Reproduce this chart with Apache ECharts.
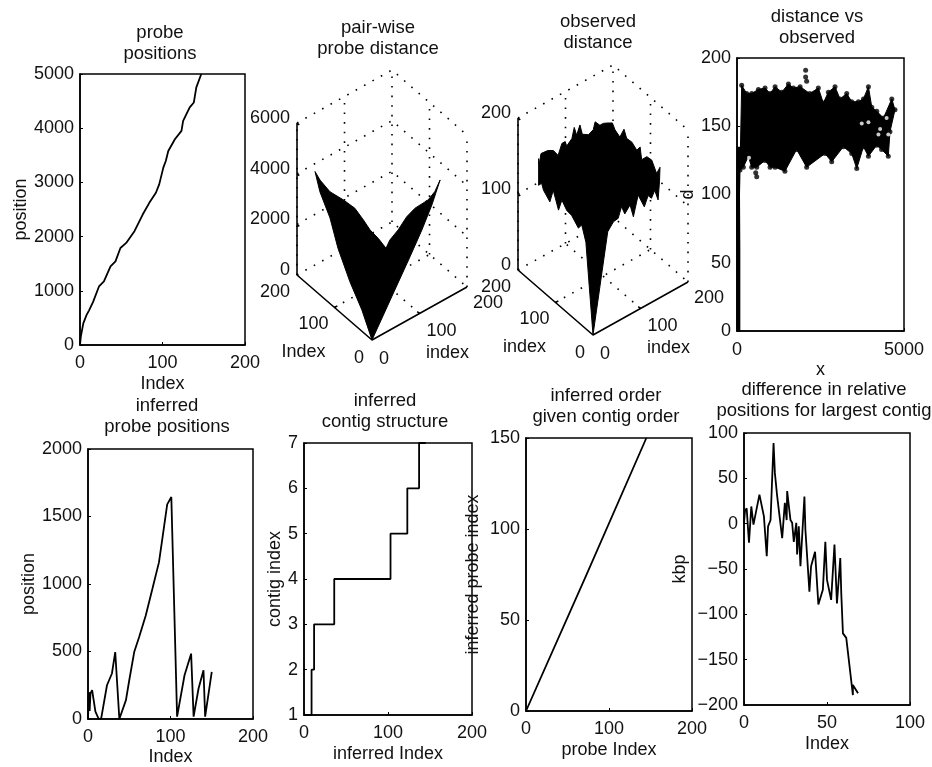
<!DOCTYPE html>
<html>
<head>
<meta charset="utf-8">
<style>html,body{margin:0;padding:0;background:#fff}#c{width:932px;height:767px}</style>
<script src="https://cdn.jsdelivr.net/npm/echarts@6/dist/echarts.min.js"></script>
</head>
<body>
<div id="c"></div>
<script>
// ---- data ----
const probePositions = [[0,0],[1,155],[4,400],[8,555],[11,640],[16,800],[23,1080],[29,1173],[37,1450],[43,1543],[49,1790],[56,1883],[66,2100],[76,2407],[84,2623],[92,2809],[96,2963],[101,3272],[104,3395],[107,3580],[115,3796],[123,3951],[125,4136],[133,4383],[138,4475],[141,4753],[147,5000]];

const pairwiseLowerLeft = [[27,840],[59,1545],[91,2465],[112,3380],[139,4070],[152,4700]];
const pairwiseRidgeLeft = [[10.5,4255],[31.6,3570],[60,2950],[84,2370],[102,1720],[116,1180],[133,675],[149.5,107]];
const pairwiseRidgeRight = [[136,687],[114,1366],[91,2183],[69,2800],[34,3577],[16,4140],[2,4775]];
const pairwiseLowerRight = [[126,4010],[105,3245],[80,2450],[48,1473],[24,734]];

const observedLowerLeft = [[19,114],[30,132],[39,124],[57,133],[70,134],[83,142],[92,125],[106,145],[115,126],[132,134],[137,141],[145,135]];
const observedUpperLeft = [[0,170],[1,161],[5,175],[19,174],[31,170],[41,160],[49,173],[56,173],[59,166],[70,172],[75,185],[80,173],[87,184],[92,170],[105,165],[115,168],[119,177],[129,169],[136,169],[143,167]];
const observedUpperRight = [[132,172],[125,166],[112,162],[101,177],[94,168],[80,169],[67,164],[58,172],[54,157],[40,167],[27,168],[14,156],[5,168]];
const observedLowerRight = [[140,153],[137,130],[130,145],[123,137],[116,143],[108,131],[95,151],[85,126],[78,144],[67,136],[60,148],[53,135],[43,134],[31,125]];

const scatterUpper = [[140,180],[290,174],[440,174],[640,177],[840,178],[990,174],[1140,179],[1340,175],[1540,181],[1690,178],[1890,179],[2180,174],[2435,178],[2585,167],[2735,175],[2935,179],[3085,170],[3285,174],[3435,168],[3635,168],[3785,170],[3935,179],[4035,164],[4185,161],[4385,156],[4635,170],[4730,162]];
const scatterLower = [[4580,146],[4530,128],[4330,133],[4180,136],[3935,128],[3785,135],[3585,119],[3435,130],[3185,135],[2835,124],[2635,130],[2085,120],[1785,133],[1435,117],[1140,120],[990,120],[840,125],[590,120],[440,120],[340,128],[190,120],[90,118]];
const scatterOutliers = [[2055,191],[2055,186],[2085,183],[590,113],[560,116]];
const scatterHoles = [[3735,152],[3935,153],[4285,148],[4235,144],[4530,144],[4480,156],[360,127]];
const scatterColumn = [[40,0],[40,60],[30,100],[60,135]];

const inferredPositions = [[0,0],[1,200],[2,60],[3,190],[5,214],[7,226],[9,54],[13,0],[16,5],[23,250],[29,337],[33,496],[35,496],[38,0],[46,140],[50,287],[56,496],[62,607],[70,767],[78,963],[86,1160],[90,1330],[96,1590],[101,1644],[108,17],[117,324],[125,484],[128,17],[134,226],[140,361],[142,17],[150,349]];
const contigSteps = [[0,1],[9,1],[9,2],[12,2],[12,3],[36,3],[36,4],[103,4],[103,5],[123,5],[123,6],[137,6],[137,7],[145,7]];
const inferredOrder = [[0,0],[72,74],[145,150]];
const positionDifference = [[0,1],[0.6,14],[1.6,17],[3,-21],[4.4,19],[5.7,-1],[9.3,32],[12,8],[13.7,-36],[14.5,-3],[16,4],[17.8,89],[18.6,56],[20,30],[23,-16],[24.6,23],[25.7,4],[26,36],[28,4],[29,1],[30,-20],[31.5,1],[32,-34],[33,-3],[34,-47],[36.4,30],[37,-7],[39.4,-75],[40.4,-47],[42.8,-31],[44.8,-89],[47.5,-73],[49,-20],[50,-62],[52.5,-84],[54.5,-23],[56,-88],[58,-38],[58.6,-77],[59.6,-121],[61.6,-126],[65.6,-189],[65.6,-178],[68.7,-187]];

const indexTicks3d = [0,100,200];
const zTicksPairwise = [0,2000,4000,6000];
const zTicksObserved = [0,100,200];

const titles = [
  ['probe\npositions',160,23],['pair-wise\nprobe distance',378,18],['observed\ndistance',598,12],['distance vs\nobserved',817,7],
  ['inferred\nprobe positions',167,396],['inferred\ncontig structure',385,391],['inferred order\ngiven contig order',606,386],['difference in relative\npositions for largest contig',824,380]
];

// ---- helpers ----
const FONT = '"Liberation Sans", Arial, sans-serif';
const FS = 18;
const grids = [], xAxes = [], yAxes = [], series = [];

function minusFmt(v){ return String(v).replace('-', '\u2212'); }

function flatPanel(box, xo, yo){
  const i = grids.length;
  grids.push({left:box[0],top:box[1],width:box[2]-box[0],height:box[3]-box[1],show:true,borderColor:'#000',borderWidth:1.5,backgroundColor:'transparent'});
  const axisCommon = {
    axisLine:{show:true,onZero:false,lineStyle:{color:'#000',width:1.5}},
    axisTick:{show:true,inside:true,length:3,lineStyle:{color:'#000',width:1}},
    splitLine:{show:false},
    nameLocation:'middle',
    nameTextStyle:{fontFamily:FONT,fontSize:FS,color:'#111'},
    axisLabel:{fontFamily:FONT,fontSize:FS,color:'#111',formatter:minusFmt,hideOverlap:false,showMinLabel:true,showMaxLabel:true}
  };
  xAxes.push(Object.assign({},axisCommon,{type:'value',gridIndex:i,min:xo.min,max:xo.max,interval:xo.interval,name:xo.name,nameGap:xo.gap,
    axisLabel:Object.assign({},axisCommon.axisLabel,{margin:xo.margin})}));
  yAxes.push(Object.assign({},axisCommon,{type:'value',gridIndex:i,min:yo.min,max:yo.max,interval:yo.interval,name:yo.name,nameGap:yo.gap,nameRotate:90,
    axisLabel:Object.assign({},axisCommon.axisLabel,{margin:6})}));
  return i;
}
function lineOn(i, data){
  series.push({type:'line',xAxisIndex:i,yAxisIndex:i,data:data,showSymbol:false,symbol:'none',animation:false,
    lineStyle:{color:'#000',width:1.8},silent:true,z:5,clip:false});
}
function polygonOn(i, pts, z){
  series.push({type:'custom',xAxisIndex:i,yAxisIndex:i,data:[[0,0]],animation:false,silent:true,z:z||4,clip:false,
    renderItem:function(p,api){
      return {type:'polygon',shape:{points:pts.map(q=>api.coord(q))},style:{fill:'#000',stroke:'#000',lineWidth:1}};
    }});
}

function panel3d(box, origin, zScale, zTicks, names){
  const i = grids.length;
  grids.push({left:box[0],top:box[1],width:box[2],height:box[3],show:false});
  xAxes.push({type:'value',gridIndex:i,min:0,max:box[2],show:false});
  yAxes.push({type:'value',gridIndex:i,min:0,max:box[3],inverse:true,show:false});
  const P = (a,b,z)=>[origin[0]-box[0]-0.375*a+0.475*b, origin[1]-box[1]-0.325*a-0.265*b-z*zScale];
  const zMax = zTicks[zTicks.length-1];
  const brk = ['-','-'];
  const dotted = [];
  const add = (...pts)=>{ pts.forEach(p=>dotted.push(p)); dotted.push(brk); };
  zTicks.forEach(z=>{ add(P(200,0,z),P(200,200,z),P(0,200,z)); });
  indexTicks3d.forEach(t=>{
    add(P(200,t,0),P(200,t,zMax));
    if(t<200) add(P(t,200,0),P(t,200,zMax));
    if(t>0&&t<200){ add(P(t,0,0),P(t,200,0)); add(P(0,t,0),P(200,t,0)); }
  });
  series.push({type:'line',xAxisIndex:i,yAxisIndex:i,data:dotted,showSymbol:false,symbol:'none',animation:false,silent:true,connectNulls:false,z:2,clip:false,
    lineStyle:{color:'#000',width:1.6,type:[1.6,8]}});
  const solid = [P(200,0,zMax),P(200,0,0),P(0,0,0),P(0,200,0),brk];
  [100].forEach(t=>{ solid.push(P(t,0,0),P(t,6,0),brk,P(0,t,0),P(6,t,0),brk); });
  zTicks.forEach(z=>{ solid.push(P(200,0,z),P(194,0,z),brk); });
  series.push({type:'line',xAxisIndex:i,yAxisIndex:i,data:solid,showSymbol:false,symbol:'none',animation:false,silent:true,connectNulls:false,z:3,clip:false,
    lineStyle:{color:'#000',width:1.6}});
  const labels = [];
  zTicks.forEach(z=>labels.push([P(200,0,z),String(z),-7,-5,'right']));
  labels.push([P(200,0,0),'200',-22,17,'center'],[P(100,0,0),'100',-21,17,'center'],[P(0,0,0),'0',-13,18,'center']);
  labels.push([P(0,0,0),'0',12,19,'center'],[P(0,100,0),'100',22,18,'center'],[P(0,200,0),'200',21,16,'center']);
  labels.push([P(100,0,0),names[0],-31,45,'center'],[P(0,100,0),names[1],28,40,'center']);
  series.push({type:'custom',xAxisIndex:i,yAxisIndex:i,data:labels.map(l=>l[0]),animation:false,silent:true,z:6,clip:false,
    renderItem:function(p,api){
      const l = labels[p.dataIndex];
      const c = api.coord(l[0]);
      return {type:'text',x:c[0]+l[2],y:c[1]+l[3],style:{text:l[1],fontFamily:FONT,fontSize:FS,fill:'#111',textAlign:l[4],textVerticalAlign:'middle'}};
    }});
  return {i,P};
}

// ---- panel 1: probe positions ----
const p1 = flatPanel([80,74,245,345],{min:0,max:200,interval:100,name:'Index',gap:30,margin:9},{min:0,max:5000,interval:1000,name:'position',gap:50});
lineOn(p1, probePositions);

// ---- panel 2: pair-wise probe distance ----
const p2 = panel3d([270,50,225,330],[372,340],152/6000,zTicksPairwise,['Index','index']);
const tipA = pairwiseLowerLeft[pairwiseLowerLeft.length-1][0], ridgeB = 145;
const outline2 = [p2.P(0,0,0)];
pairwiseLowerLeft.forEach(q=>outline2.push(p2.P(q[0],0,q[1])));
pairwiseRidgeLeft.forEach(q=>outline2.push(p2.P(tipA,q[0],q[1])));
pairwiseRidgeRight.forEach(q=>outline2.push(p2.P(q[0],ridgeB,q[1])));
pairwiseLowerRight.forEach(q=>outline2.push(p2.P(0,q[0],q[1])));
polygonOn(p2.i, outline2);

// ---- panel 3: observed distance ----
const p3 = panel3d([490,40,225,330],[593,335],152/200,zTicksObserved,['index','index']);
const outline3 = [p3.P(0,0,0)];
observedLowerLeft.forEach(q=>outline3.push(p3.P(q[0],0,q[1])));
observedUpperLeft.forEach(q=>outline3.push(p3.P(145,q[0],q[1])));
observedUpperRight.forEach(q=>outline3.push(p3.P(q[0],145,q[1])));
observedLowerRight.forEach(q=>outline3.push(p3.P(0,q[0],q[1])));
polygonOn(p3.i, outline3);

// ---- panel 4: distance vs observed ----
const p4 = flatPanel([737,58,904,331],{min:0,max:5000,interval:5000,name:'x',gap:30,margin:10},{min:0,max:200,interval:50,name:'d',gap:40});
polygonOn(p4, scatterUpper.concat(scatterLower));
series.push({type:'scatter',xAxisIndex:p4,yAxisIndex:p4,data:scatterHoles,symbolSize:4,itemStyle:{color:'#fff'},animation:false,silent:true,z:7});
series.push({type:'scatter',xAxisIndex:p4,yAxisIndex:p4,data:scatterUpper.concat(scatterLower,scatterOutliers),symbolSize:5,itemStyle:{color:'#000'},animation:false,silent:true,z:6});
series.push({type:'line',xAxisIndex:p4,yAxisIndex:p4,data:scatterColumn,showSymbol:false,symbol:'none',animation:false,silent:true,z:5,lineStyle:{color:'#000',width:4}});

// ---- panel 5: inferred probe positions ----
const p5 = flatPanel([88,449,253,720],{min:0,max:200,interval:100,name:'Index',gap:29,margin:9},{min:0,max:2000,interval:500,name:'position',gap:50});
lineOn(p5, inferredPositions);

// ---- panel 6: inferred contig structure ----
const p6 = flatPanel([304,443,472,715],{min:0,max:200,interval:100,name:'inferred Index',gap:30,margin:9},{min:1,max:7,interval:1,name:'contig index',gap:20});
lineOn(p6, contigSteps);

// ---- panel 7: inferred order given contig order ----
const p7 = flatPanel([526,438,692,711],{min:0,max:200,interval:100,name:'probe Index',gap:30,margin:9},{min:0,max:150,interval:50,name:'inferred probe index',gap:44});
lineOn(p7, inferredOrder);

// ---- panel 8: difference in relative positions ----
const p8 = flatPanel([744,433,910,705],{min:0,max:100,interval:50,name:'Index',gap:30,margin:9},{min:-200,max:100,interval:50,name:'kbp',gap:55});
lineOn(p8, positionDifference);

const chart = echarts.init(document.getElementById('c'),null,{renderer:'canvas'});
chart.setOption({
  backgroundColor:'#fff',
  animation:false,
  title:titles.map(t=>({text:t[0],left:t[1],top:t[2],textAlign:'center',padding:0,
    textStyle:{fontFamily:FONT,fontSize:18.5,fontWeight:'normal',color:'#111',lineHeight:20.5}})),
  grid:grids,xAxis:xAxes,yAxis:yAxes,series:series
});
</script>
</body>
</html>
